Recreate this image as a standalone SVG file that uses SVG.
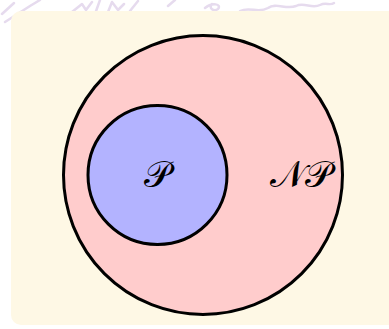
<svg xmlns="http://www.w3.org/2000/svg" width="389" height="329" viewBox="0 0 389 329">
<style>
.set{stroke:#000;stroke-width:3}
.lbl{font-family:"DejaVu Sans","Noto Sans",serif;font-size:37px;text-anchor:middle;fill:#000}
.wm{fill:none;stroke:#e6dbee;stroke-width:2.5;stroke-linecap:round;stroke-linejoin:round}
</style>
<rect width="389" height="329" fill="#ffffff"/>
<g id="watermark">
<path class="wm" d="M2,14 L14,3 M5,22 L30,6 L40,0"/>
<path class="wm" d="M72,12 L82,4 L86,10 L92,2 M95,14 L100,0 M108,12 L112,2 L118,10 L124,4 M130,11 L138,1"/>
<path class="wm" d="M168,6 L175,0 M205,8 C212,2 222,4 218,9 C214,12 208,8 212,4"/>
<path class="wm" d="M240,11 C250,6 258,14 268,8 C276,2 286,10 296,6 C304,2 312,9 320,5 C326,2 330,6 334,3"/>
</g>
<rect id="panel" x="11" y="11" width="400" height="314" rx="10" fill="#fef8e5"/>
<g id="NP">
<circle class="set" cx="203" cy="175" r="139.5" fill="#ffcccc"/>
<text class="lbl" x="301" y="187">𝒩𝒫</text>
</g>
<g id="P">
<circle class="set" cx="157.5" cy="175" r="69.5" fill="#b3b3ff"/>
<text class="lbl" x="157.5" y="187">𝒫</text>
</g>
<g id="connectors"/>
</svg>
